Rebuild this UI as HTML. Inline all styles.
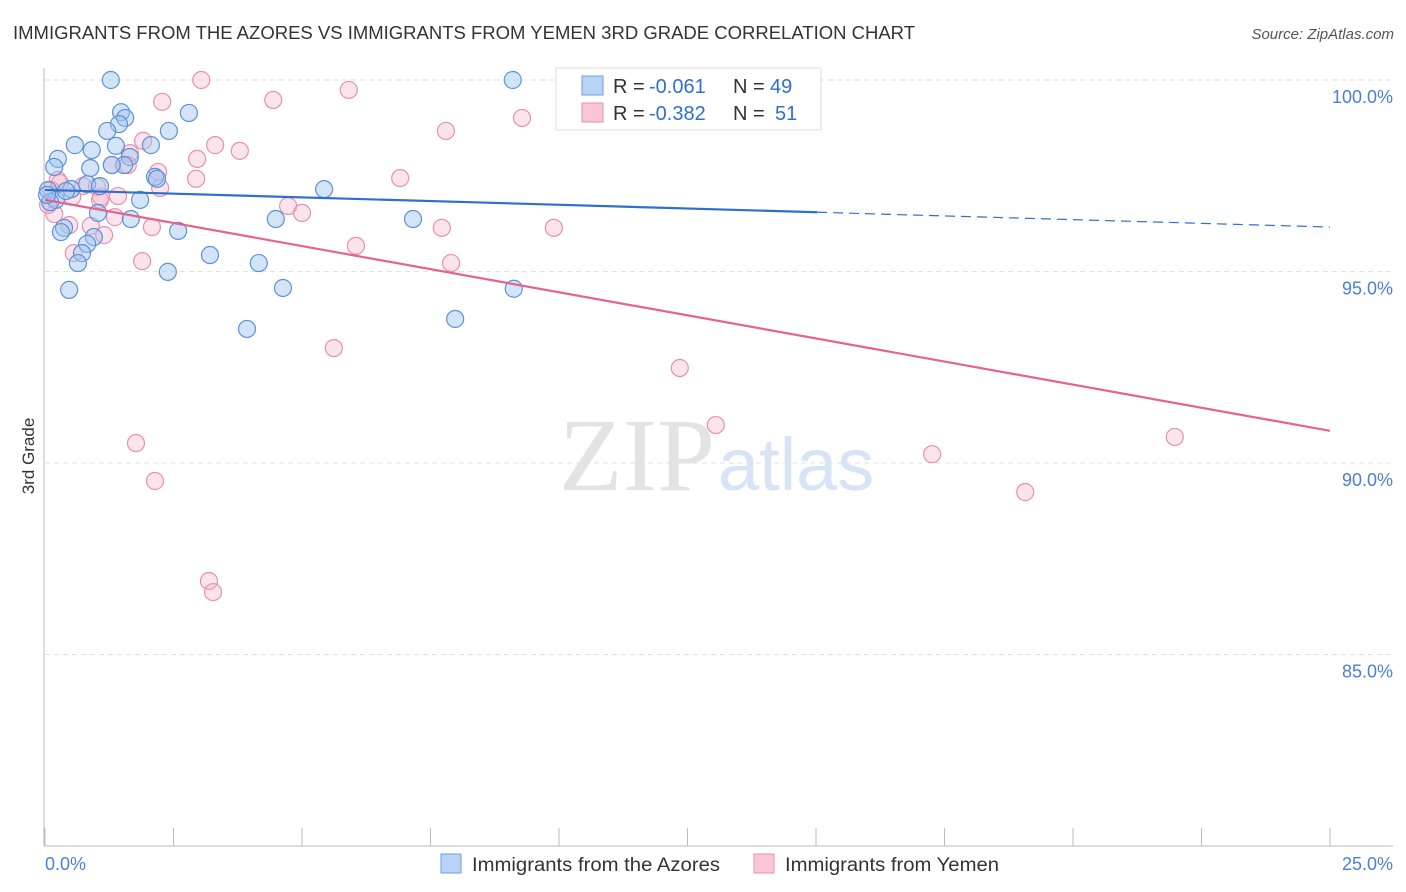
<!DOCTYPE html>
<html><head><meta charset="utf-8"><style>
body{margin:0;background:#fff;font-family:"Liberation Sans",sans-serif;}
#wrap{position:relative;width:1406px;height:892px;overflow:hidden;}
</style></head><body>
<div id="wrap">
<svg id="svg" width="1406" height="892">
<text x="13" y="39" font-size="18" fill="#333" textLength="902" lengthAdjust="spacingAndGlyphs">IMMIGRANTS FROM THE AZORES VS IMMIGRANTS FROM YEMEN 3RD GRADE CORRELATION CHART</text>
<text x="1394" y="39" font-size="15" fill="#555" font-style="italic" text-anchor="end">Source: ZipAtlas.com</text>
<text x="34" y="456" font-size="17" fill="#333" transform="rotate(-90 34 456)" text-anchor="middle">3rd Grade</text>
<text x="715" y="490" font-size="104" fill="#e3e3e3" text-anchor="end" font-family="Liberation Serif">ZIP</text>
<text x="718" y="490" font-size="74" fill="#d6e4f5">atlas</text>
<g id="grid"></g><g id="axes"></g><g id="pts"></g><g id="lines"></g>
<g>
<rect x="556" y="68" width="265" height="62" fill="#fff" stroke="#ddd"/>
<rect x="582" y="76" width="21" height="19" fill="#b8d3f5" stroke="#6a9fe0"/>
<rect x="582" y="103" width="21" height="19" fill="#f9c6d6" stroke="#ea8fae"/>
<text x="613" y="93" font-size="20" fill="#333">R =</text>
<text x="649" y="93" font-size="20" fill="#2f6fd0">-0.061</text>
<text x="733" y="93" font-size="20" fill="#333">N =</text>
<text x="770" y="93" font-size="20" fill="#2f6fd0">49</text>
<text x="613" y="120" font-size="20" fill="#333">R =</text>
<text x="649" y="120" font-size="20" fill="#2f6fd0">-0.382</text>
<text x="733" y="120" font-size="20" fill="#333">N =</text>
<text x="775" y="120" font-size="20" fill="#2f6fd0">51</text>
</g>
<g>
<rect x="441" y="854" width="20" height="19" fill="#b8d3f5" stroke="#6a9fe0"/>
<text x="472" y="871" font-size="19" fill="#333" textLength="248" lengthAdjust="spacingAndGlyphs">Immigrants from the Azores</text>
<rect x="754" y="854" width="20" height="19" fill="#f9c6d6" stroke="#ea8fae"/>
<text x="785" y="871" font-size="19" fill="#333" textLength="214" lengthAdjust="spacingAndGlyphs">Immigrants from Yemen</text>
</g>
</svg>
</div>
<script>
const blueX=[1.28,9.10,1.48,2.80,1.56,1.44,1.21,2.41,0.58,1.38,2.06,0.91,0.25,1.65,1.54,1.30,0.18,0.88,2.14,2.18,0.82,1.07,0.51,0.06,5.43,1.85,0.21,0.10,1.03,4.49,1.67,7.16,0.37,0.31,2.59,0.95,0.82,0.72,3.21,0.64,4.16,2.39,0.47,4.63,9.12,7.98,3.93,0.04,0.41];
const blueY=[100.0,100.0,99.16,99.14,99.01,98.85,98.67,98.67,98.30,98.28,98.30,98.17,97.94,97.99,97.78,97.78,97.73,97.70,97.47,97.42,97.28,97.23,97.15,97.13,97.15,96.87,96.87,96.81,96.53,96.37,96.37,96.37,96.14,96.03,96.06,95.90,95.72,95.48,95.43,95.22,95.22,94.99,94.52,94.57,94.55,93.76,93.50,97.00,97.10];
const pinkX=[3.04,5.91,2.28,4.44,9.28,7.80,1.91,3.31,3.79,2.96,1.65,2.20,1.30,2.94,6.91,0.29,0.74,1.42,1.09,0.12,4.73,5.00,0.18,1.36,7.72,9.90,2.08,0.47,0.89,1.15,6.05,0.56,1.89,7.90,5.62,12.35,1.77,13.05,2.14,17.26,21.98,19.07,3.19,3.27,0.25,0.06,1.01,1.61,2.24,0.53,1.07];
const pinkY=[100.0,99.74,99.43,99.48,99.01,98.67,98.41,98.30,98.15,97.94,98.09,97.60,97.78,97.42,97.44,97.31,97.23,96.97,96.95,97.13,96.71,96.53,96.50,96.42,96.14,96.14,96.16,96.21,96.19,95.95,95.67,95.48,95.27,95.22,93.00,92.48,90.52,90.99,89.53,90.23,90.68,89.24,86.92,86.63,97.39,96.74,97.21,97.78,97.18,96.95,96.87];
const blueTrend=[97.13,96.16];
const pinkTrend=[96.87,90.84];
const blueSolidEnd=15.02;
const yTicks=[100,95,90,85];
const yTickLabels=["100.0%","95.0%","90.0%","85.0%"];
const xTicks=[0,2.5,5,7.5,10,12.5,15,17.5,20,22.5,25];
const NS="http://www.w3.org/2000/svg";
const sx=v=>45+v/25*1285;
const sy=v=>80+(100-v)/5*191.5;
function mk(tag,attrs,parent){const e=document.createElementNS(NS,tag);for(const k in attrs)e.setAttribute(k,attrs[k]);document.getElementById(parent).appendChild(e);return e;}
yTicks.forEach((t,i)=>{
  const g=mk('line',{x1:45,x2:1393,y1:sy(t),y2:sy(t),stroke:'#e2e2e2','stroke-dasharray':'5,4'},'grid');
  
  
  const l=mk('text',{x:1393,y:sy(t)+23,'font-size':18,fill:'#4a80d4','text-anchor':'end'},'grid');
  l.textContent=yTickLabels[i];
  
  
});
const ax=mk('line',{x1:44,x2:44,y1:68,y2:846,stroke:'#bbb'},'axes');


const bx=mk('line',{x1:44,x2:1393,y1:846,y2:846,stroke:'#bbb'},'axes');


xTicks.forEach(t=>{
  const k=mk('line',{x1:sx(t),x2:sx(t),y1:828,y2:846,stroke:'#bbb'},'axes');
  
  
});
const xl0=mk('text',{x:45,y:870,'font-size':18,fill:'#4a80d4'},'axes');xl0.textContent='0.0%';


const xl1=mk('text',{x:1393,y:870,'font-size':18,fill:'#4a80d4','text-anchor':'end'},'axes');xl1.textContent='25.0%';


pinkX.forEach((x,i)=>{
  const c=mk('circle',{cx:sx(x),cy:sy(pinkY[i]),r:8.5,fill:'rgba(246,178,200,0.35)',stroke:'#e890ad','stroke-width':1.2},'pts');
  
  
});
blueX.forEach((x,i)=>{
  const c=mk('circle',{cx:sx(x),cy:sy(blueY[i]),r:8.5,fill:'rgba(160,196,240,0.45)',stroke:'#5b93d8','stroke-width':1.2},'pts');
  
  
});
const bAt=x=>blueTrend[0]+(blueTrend[1]-blueTrend[0])*x/25;
const l1=mk('line',{x1:sx(0),y1:sy(bAt(0)),x2:sx(blueSolidEnd),y2:sy(bAt(blueSolidEnd)),stroke:'#2f6fd0','stroke-width':2.2},'lines');


const l2=mk('line',{x1:sx(blueSolidEnd),y1:sy(bAt(blueSolidEnd)),x2:sx(25),y2:sy(bAt(25)),stroke:'#2f6fd0','stroke-width':1.2,'stroke-dasharray':'10,6'},'lines');


const l3=mk('line',{x1:sx(0),y1:sy(pinkTrend[0]),x2:sx(25),y2:sy(pinkTrend[1]),stroke:'#e5638f','stroke-width':2.2},'lines');


</script>
</body></html>
